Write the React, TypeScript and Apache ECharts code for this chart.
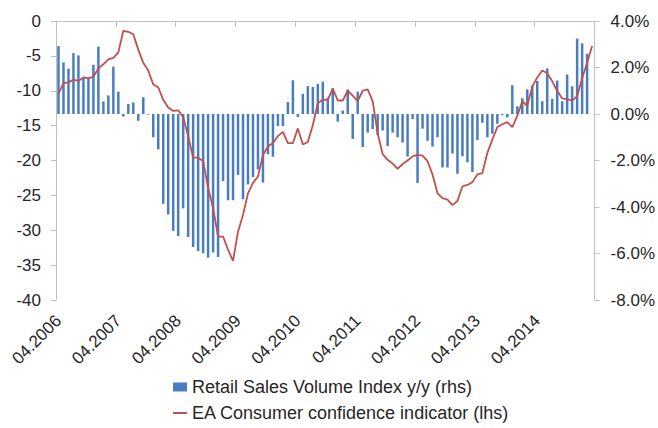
import React, { useEffect, useRef } from "react";
import * as echarts from "echarts";

const startYear = 2006;
const startMonth = 4;
const monthCount = 108;
const categories: string[] = [];
for (let k = 0; k < monthCount; k++) {
  const m = ((startMonth - 1 + k) % 12) + 1;
  const y = startYear + Math.floor((startMonth - 1 + k) / 12);
  categories.push(String(m).padStart(2, "0") + "." + y);
}

const barName = "Retail Sales Volume Index y/y (rhs)";
const lineName = "EA Consumer confidence indicator (lhs)";

// Retail sales volume index y/y, % (right axis)
const retailSales: (number | null)[] = [
  2.92, 2.22, 1.95, 2.62, 2.52, 1.58, 1.58, 2.12, 2.9, 0.54, 0.8, 2.04,
  0.96, -0.11, 0.43, 0.49, -0.29, 0.72, -0.03, -1.0, -1.52, -3.86, -4.32, -5.03,
  -5.25, -4.06, -5.29, -5.72, -5.89, -5.99, -6.18, -5.96, -6.15, -2.88, -3.71, -3.71,
  -2.62, -3.67, -3.03, -2.71, -2.38, -2.95, -1.73, -1.84, -0.52, -0.52, 0.52, 1.45,
  -0.13, 0.87, 1.2, 1.16, 1.3, 1.39, 0.7, 1.1, -0.33, 0.15, 1.06, -1.07,
  0.96, -1.42, -0.8, -0.65, -0.9, -0.71, -1.38, -0.8, -1.0, -1.23, -1.83, -0.22,
  -2.97, -0.63, -1.15, -1.4, -1.0, -2.3, -2.3, -1.7, -2.57, -1.82, -2.08, -2.5,
  -1.12, -0.38, -1.0, -0.85, -0.42, -0.05, -0.15, 1.24, 0.33, 0.68, 1.06, 1.22,
  1.42, 0.55, 1.96, 0.65, 1.44, 0.55, 1.7, 1.19, 3.24, 3.04, 2.59, null,
];

// EA consumer confidence indicator (left axis)
const consumerConfidence: number[] = [
  -10.4, -8.9, -8.8, -8.4, -8.6, -8.1, -8.2, -8.0, -6.8, -6.2, -5.5, -5.3,
  -4.5, -1.4, -1.55, -1.9, -4.1, -6.0, -7.1, -9.1, -9.5, -11.3, -12.4, -12.9,
  -12.8, -13.8, -16.5, -19.6, -19.6, -20.1, -23.9, -26.8, -30.9, -30.9, -32.8, -34.4,
  -30.2, -27.8, -24.7, -23.2, -22.3, -19.2, -18.0, -17.5, -16.5, -15.9, -17.5, -17.5,
  -15.4, -17.7, -17.35, -14.9, -11.8, -11.3, -11.3, -9.7, -11.4, -11.4, -10.0, -10.7,
  -11.5, -10.0, -9.8, -11.5, -16.1, -19.1, -19.9, -20.45, -21.2, -20.5, -20.0, -19.4,
  -19.2, -19.3, -20.1, -22.0, -24.7, -25.4, -25.6, -26.4, -25.8, -23.7, -23.5, -23.1,
  -22.0, -21.8, -18.9, -17.0, -15.2, -14.8, -14.5, -15.2, -13.6, -11.5, -12.2, -9.4,
  -8.1, -7.1, -7.5, -8.65, -10.0, -11.1, -11.2, -11.4, -10.8, -8.2, -6.0, -3.6,
];

const leftMin = -40;
const leftMax = 0;
const leftStep = 5;
const rightMin = -8;
const rightMax = 4;
const rightStep = 2;

const textColor = "#262626";
const axisColor = "#bfbfbf";
const barColor = "#4a7dbf";
const lineColor = "#c0504d";
const fontFamily = "'Liberation Sans', Arial, sans-serif";
const axisFont = 17;
const legendFont = 18;

export default function App() {
  const ref = useRef<HTMLDivElement>(null);
  useEffect(() => {
    if (!ref.current) return;
    const chart = echarts.init(ref.current, undefined, { renderer: "svg" });
    chart.setOption({
      animation: false,
      textStyle: { fontFamily },
      grid: { left: 56, right: 63, top: 21, bottom: 128 },
      legend: [
        {
          left: 168,
          top: 373,
          itemWidth: 14,
          itemHeight: 9,
          textStyle: { fontSize: legendFont, color: textColor, fontFamily },
          data: [{ name: barName, icon: "rect" }],
        },
        {
          left: 168,
          top: 399,
          itemWidth: 14,
          itemHeight: 2,
          textStyle: { fontSize: legendFont, color: textColor, fontFamily },
          data: [{ name: lineName, icon: "rect" }],
        },
      ],
      xAxis: [
        {
          type: "category",
          data: categories,
          position: "top",
          boundaryGap: true,
          axisLine: { show: true, onZero: false, lineStyle: { color: axisColor, width: 1 } },
          axisTick: { show: true, interval: 11, inside: true, length: 6, lineStyle: { color: axisColor } },
          axisLabel: { show: false },
          splitLine: { show: false },
        },
        {
          type: "category",
          data: categories,
          position: "bottom",
          boundaryGap: true,
          axisLine: { show: false, onZero: false },
          axisTick: { show: false },
          axisLabel: {
            interval: 11,
            rotate: 45,
            margin: 18,
            fontSize: axisFont,
            color: textColor,
            fontFamily,
          },
          splitLine: { show: false },
        },
      ],
      yAxis: [
        {
          type: "value",
          position: "left",
          min: leftMin,
          max: leftMax,
          interval: leftStep,
          axisLine: { show: true, lineStyle: { color: axisColor } },
          axisTick: { show: true, length: 5, lineStyle: { color: axisColor } },
          axisLabel: { fontSize: axisFont, color: textColor, margin: 15, fontFamily },
          splitLine: { show: false },
        },
        {
          type: "value",
          position: "right",
          min: rightMin,
          max: rightMax,
          interval: rightStep,
          axisLine: { show: true, lineStyle: { color: axisColor } },
          axisTick: { show: true, length: 5, lineStyle: { color: axisColor } },
          axisLabel: {
            fontSize: axisFont,
            color: textColor,
            margin: 16,
            fontFamily,
            formatter: (v: number) => v.toFixed(1) + "%",
          },
          splitLine: { show: false },
        },
      ],
      series: [
        {
          name: barName,
          type: "bar",
          xAxisIndex: 0,
          yAxisIndex: 1,
          data: retailSales,
          barWidth: 2.5,
          itemStyle: { color: barColor },
        },
        {
          name: lineName,
          type: "line",
          xAxisIndex: 0,
          yAxisIndex: 0,
          data: consumerConfidence,
          symbol: "none",
          lineStyle: { color: lineColor, width: 1.8 },
          itemStyle: { color: lineColor },
        },
      ],
    });
    return () => chart.dispose();
  }, []);
  return (
    <div
      ref={ref}
      style={{ position: "fixed", left: 0, top: 0, width: 658, height: 428, background: "#fff" }}
    />
  );
}
